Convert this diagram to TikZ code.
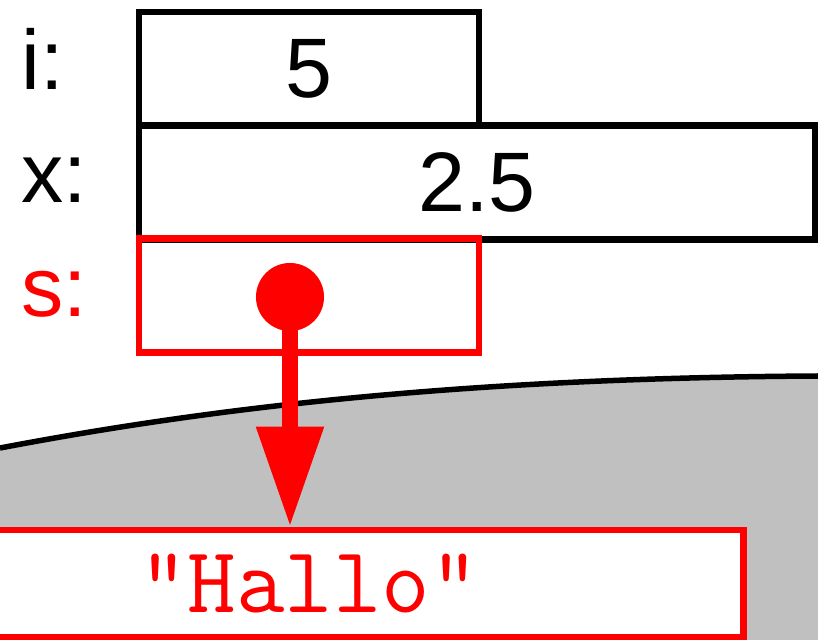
\documentclass[tikz,border=0pt]{standalone}
\usepackage{fontspec}
\usepackage{tikz}
\usetikzlibrary{arrows.meta,positioning}
\newfontfamily\arialfont{Liberation Sans}
\definecolor{heapgray}{HTML}{C0C0C0}
\definecolor{refred}{HTML}{FF0000}

\begin{document}
\begin{tikzpicture}[x=0.01cm,y=-0.01cm,font=\fontsize{24}{28}\arialfont,
		cell/.style={draw,line width=0.065cm,rectangle,inner sep=0pt,minimum height=1.135cm},
		varname/.style={anchor=base west,inner sep=0pt}]
			\clip (0,0) rectangle (818,640);
			% heap
			\fill[heapgray] (0,448) .. controls (200,410) and (450,378) .. (818,376) -- (830,660) -- (-10,660) -- cycle;
			\draw[line width=0.055cm] (0,448) .. controls (200,410) and (450,378) .. (818,376);
			% stack
			\node[varname] (lblI) at (21,90) {i:};
			\node[varname] (lblX) at (21,203) {x:};
			\node[varname,text=refred] (lblS) at (21,317) {s:};
			\node[cell,minimum width=3.4cm] (boxI) at (309,69) {5};
			\node[cell,minimum width=6.76cm] (boxX) at (477,182.5) {2.5};
			\node[cell,draw=refred,minimum width=3.4cm] (boxS) at (309,295.5) {};
			\node[circle,fill=refred,inner sep=0pt,minimum size=0.68cm] (dot) at (290,297) {};
			\node[cell,draw=refred,fill=white,minimum width=8.68cm,minimum height=1.07cm,
				text=refred,font=\fontsize{26.8}{31}\ttfamily] (hallo) at (309,583.5) {"Hallo"};
			\draw[refred,line width=0.15cm,-{Triangle[length=1cm,width=0.64cm]}] (dot.center) -- (dot |- hallo.north);
		\end{tikzpicture}
\end{document}
